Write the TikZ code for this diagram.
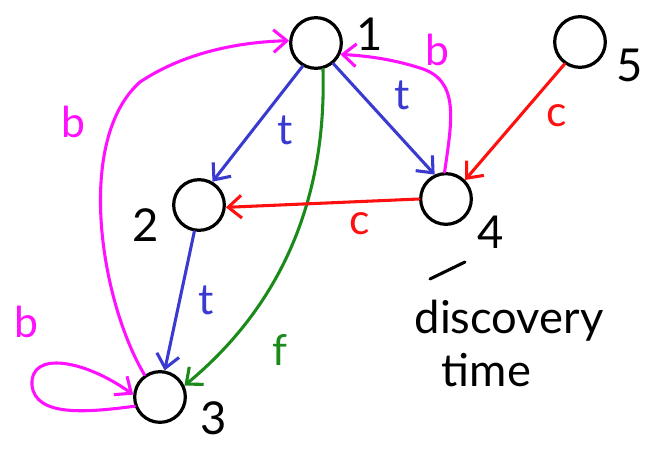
\documentclass[tikz,border=0pt]{standalone}
\usepackage{fontspec}
\setmainfont{Lato}
\usetikzlibrary{arrows.meta}
\definecolor{tblue}{HTML}{3A3AD0}
\definecolor{tred}{HTML}{FF1010}
\definecolor{tgreen}{HTML}{1A8A1A}
\definecolor{tmag}{HTML}{FF10FF}
\tikzset{
  vert/.style={circle,draw=black,line width=2.4pt,minimum size=38pt,inner sep=0pt},
  vlabel/.style={font=\fontsize{34}{34}\selectfont,text=black},
  elabel/.style={font=\fontsize{32}{32}\selectfont},
  edge/.style={line width=2.3pt,line cap=round,-{Straight Barb[length=10pt,width=17pt,line width=2.3pt]}},
}
\begin{document}
\begin{tikzpicture}[x=0.75pt,y=-0.75pt]
\useasboundingbox (0,0) rectangle (657,449);
\node[vert] (n1) at (316,43) {};
\node[vert] (n2) at (199,205) {};
\node[vert] (n3) at (160,397) {};
\node[vert] (n4) at (446,199) {};
\node[vert] (n5) at (580,42) {};
\node[vlabel] (l1) at (370,34) {1};
\node[vlabel] (l2) at (146,225) {2};
\node[vlabel] (l3) at (214,418) {3};
\node[vlabel] (l4) at (491,232) {4};
\node[vlabel] (l5) at (630,65) {5};
% tree edges
\draw[edge,tblue] (n1.-120) -- (n2.60);
\draw[edge,tblue] (n1.-50) -- (n4.115);
\draw[edge,tblue] (n2.-100) -- (n3.80);
\node[elabel,text=tblue] (t1) at (285,130) {t};
\node[elabel,text=tblue] (t2) at (402,95) {t};
\node[elabel,text=tblue] (t3) at (206,300) {t};
% forward edge
\draw[edge,tgreen] (n1.-75) .. controls (326,170) and (300,290) .. (n3.25);
\node[elabel,text=tgreen] (f1) at (280,350) {f};
% cross edges
\draw[edge,tred] (n4.180) -- (n2.-5);
\draw[edge,tred] (n5.-125) -- (n4.45);
\node[elabel,text=tred] (c1) at (360,224) {c};
\node[elabel,text=tred] (c2) at (557,116) {c};
% back edges
\draw[edge,tmag] (n4.93) .. controls (452,120) and (460,80) .. (420,68) .. controls (395,60) and (370,56) .. (n1.-25);
\draw[edge,tmag] (n3.125) .. controls (100,300) and (75,140) .. (140,82) .. controls (185,52) and (240,42) .. (n1.175);
\draw[edge,tmag] (n3.-160) .. controls (90,412) and (35,418) .. (32,385) .. controls (30,350) and (85,360) .. (n3.175);
\node[elabel,text=tmag] (b1) at (437,50) {b};
\node[elabel,text=tmag] (b2) at (73,122) {b};
\node[elabel,text=tmag] (b3) at (26,322) {b};
% annotation
\coordinate (d1) at (430,279);
\coordinate (d2) at (465,262);
\draw[line width=2.3pt,line cap=round] (d1) -- (d2);
\node[font=\fontsize{34}{40}\selectfont,align=left,anchor=north west] (dt) at (410,295) {discovery\\\hspace{0.6em}time};
\end{tikzpicture}
\end{document}
